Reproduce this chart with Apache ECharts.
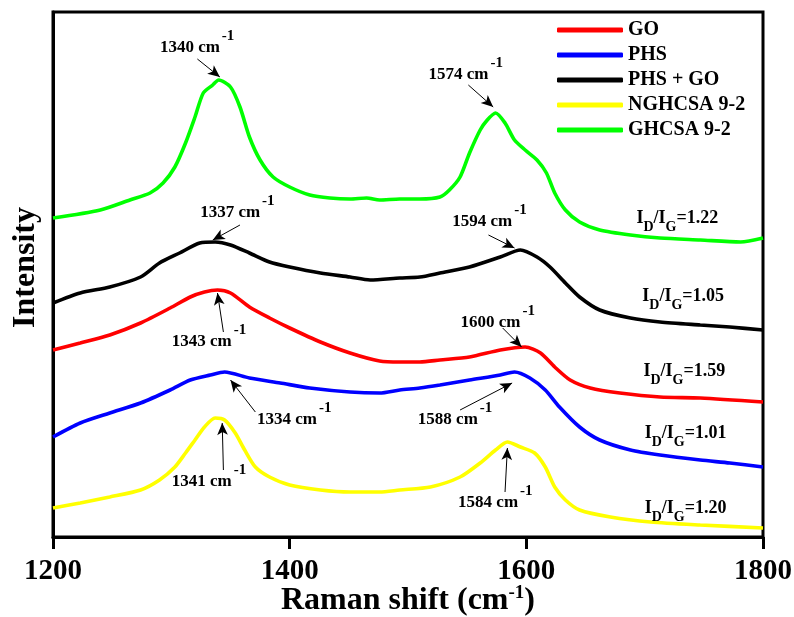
<!DOCTYPE html>
<html>
<head>
<meta charset="utf-8">
<script src="https://cdn.jsdelivr.net/npm/echarts@6/dist/echarts.min.js"></script>
<style>
  html, body { margin: 0; padding: 0; background: #fff; }
  #main { width: 794px; height: 617px; }
</style>
</head>
<body>
<div id="main"></div>
<script>
// Raman spectra, values (intensity is offset, a.u.)
var shiftGO = [1200,1223,1248,1274,1299,1316,1328,1339,1350,1366,1383,1400,1426,1451,1476,1493,1510,1527,1552,1578,1599,1612,1624,1637,1654,1679,1713,1747,1800];
var intGO   = [187,194,202,214,229,240,245,247,244,230,219,209,195,184,176,175,175,177,180,187,190,184,170,157,149,144,140,139,135];

var shiftPHS = [1200,1223,1248,1274,1299,1316,1333,1345,1366,1392,1417,1451,1476,1493,1510,1527,1552,1578,1590,1603,1616,1628,1645,1662,1688,1713,1747,1772,1800];
var intPHS   = [100,114,124,134,147,157,162,165,159,154,149,145,144,147,149,152,157,162,165,159,147,130,110,97,87,82,77,74,70];

var shiftMix = [1200,1223,1248,1274,1290,1307,1324,1337,1350,1366,1383,1400,1426,1451,1468,1493,1510,1527,1552,1578,1595,1609,1620,1633,1645,1662,1688,1713,1747,1772,1800];
var intMix   = [234,244,250,260,274,284,294,295,292,284,275,270,264,260,257,259,260,264,270,280,287,280,270,254,240,227,219,215,212,210,207];

var shiftNG = [1200,1223,1248,1274,1290,1303,1312,1320,1328,1337,1345,1354,1362,1371,1383,1400,1426,1451,1476,1493,1519,1544,1561,1574,1584,1595,1607,1616,1624,1633,1645,1671,1705,1747,1800];
var intNG   = [29,34,40,47,57,70,84,97,110,119,117,104,87,70,60,52,47,45,45,47,50,60,74,87,95,90,84,70,50,37,27,20,15,12,9];

var shiftG = [1200,1240,1265,1282,1293,1303,1312,1320,1327,1335,1340,1350,1358,1366,1375,1386,1400,1417,1434,1451,1465,1476,1493,1510,1527,1535,1544,1552,1561,1567,1574,1582,1590,1599,1609,1617,1624,1633,1645,1662,1688,1713,1747,1781,1800];
var intG   = [319,327,337,344,354,370,394,420,444,452,457,450,430,400,377,360,350,342,339,338,339,337,338,338,340,347,360,384,407,417,424,414,397,387,377,364,344,327,315,307,302,299,297,295,299];

var names = ['GO', 'PHS', 'PHS + GO', 'NGHCSA 9-2', 'GHCSA 9-2'];
var xTicks = [1200, 1400, 1600, 1800];

// peak labels: text, anchor (end of "cm") in data coords
var peakText = ['1340', '1337', '1574', '1594', '1600', '1343', '1334', '1588', '1341', '1584'];
var peakX    = [1341, 1375, 1568, 1588, 1595, 1351, 1423, 1559, 1351, 1593];
var peakY    = [489, 324, 462, 315, 214, 195, 117, 117, 55, 34];
// arrows: from -> to
var arrFromX = [1322, 1358, 1551, 1568, 1580, 1344, 1371, 1544, 1344, 1582];
var arrFromY = [478, 312, 452, 302, 209, 205, 125, 127, 67, 45];
var arrToX   = [1341, 1335, 1572, 1590, 1596, 1339, 1350, 1588, 1343, 1584];
var arrToY   = [460, 297, 430, 289, 190, 244, 157, 154, 114, 89];

// I_D/I_G ratios
var ratioText = ['1.22', '1.05', '1.59', '1.01', '1.20'];
var ratioX    = [1693, 1698, 1699, 1700, 1700];
var ratioY    = [319, 241, 166, 104, 29];

var colors = ['#ff0000', '#0000ff', '#000000', '#ffff00', '#00ff00'];
var FONT = '"Liberation Serif", "Times New Roman", serif';

function zip(a, b) {
  return a.map(function (v, i) { return [v, b[i]]; });
}

var chart = echarts.init(document.getElementById('main'));

var seriesData = [
  zip(shiftGO, intGO),
  zip(shiftPHS, intPHS),
  zip(shiftMix, intMix),
  zip(shiftNG, intNG),
  zip(shiftG, intG)
];

var series = names.map(function (n, i) {
  return {
    name: n,
    type: 'line',
    data: seriesData[i],
    showSymbol: false,
    smooth: 0.25,
    lineStyle: { width: 3.6, color: colors[i] },
    itemStyle: { color: colors[i] },
    z: 2
  };
});

// arrows go on the first series as a markLine
series[0].markLine = {
  silent: true,
  symbol: ['none', 'arrow'],
  symbolSize: [8, 12],
  label: { show: false },
  lineStyle: { color: '#000', width: 1, type: 'solid' },
  itemStyle: { color: '#000' },
  emphasis: { disabled: true },
  data: arrFromX.map(function (x, i) {
    return [{ coord: [x, arrFromY[i]] }, { coord: [arrToX[i], arrToY[i]] }];
  })
};

var option = {
  animation: false,
  backgroundColor: '#fff',
  color: colors,
  grid: {
    left: 53, right: 31, top: 12, bottom: 80,
    containLabel: false,
    outerBoundsMode: 'none',
    show: true, borderColor: '#000', borderWidth: 3
  },
  legend: {
    orient: 'vertical',
    left: 552,
    top: 15,
    icon: 'roundRect',
    itemWidth: 66,
    itemHeight: 5,
    itemGap: 5,
    textStyle: { fontFamily: FONT, fontWeight: 'bold', fontSize: 20, color: '#000', lineHeight: 20 },
    data: names
  },
  xAxis: {
    type: 'value',
    min: 1200, max: 1800, interval: 200,
    splitLine: { show: false },
    axisLine: { lineStyle: { color: '#000', width: 3 } },
    axisTick: { inside: false, length: 12, lineStyle: { width: 3, color: '#000' } },
    axisLabel: {
      margin: 20,
      fontFamily: FONT, fontWeight: 'bold', fontSize: 29, color: '#000',
      formatter: function (v) { return xTicks.indexOf(v) >= 0 ? String(v) : ''; }
    },
    name: 'Raman shift (cm{sup|-1})',
    nameLocation: 'middle',
    nameGap: 47,
    nameMoveOverlap: false,
    nameTextStyle: {
      fontFamily: FONT, fontWeight: 'bold', fontSize: 32, color: '#000', lineHeight: 34,
      rich: {
        sup: { fontFamily: FONT, fontWeight: 'bold', fontSize: 19, color: '#000', lineHeight: 19, verticalAlign: 'top' }
      }
    }
  },
  yAxis: {
    type: 'value',
    min: 0, max: 525,
    splitLine: { show: false },
    axisLine: { show: true, lineStyle: { color: '#000', width: 3 } },
    axisTick: { show: false },
    axisLabel: { show: false },
    name: 'Intensity',
    nameLocation: 'middle',
    nameGap: 11,
    nameMoveOverlap: false,
    nameTextStyle: { fontFamily: FONT, fontWeight: 'bold', fontSize: 32, color: '#000', padding: [0, 0, 0, 14] }
  },
  series: series
};

chart.setOption(option);

// text annotations, placed from data coords
var ctx = document.createElement('canvas').getContext('2d');
function textW(t, size) {
  ctx.font = 'bold ' + size + 'px ' + FONT;
  return ctx.measureText(t).width;
}
function txt(t, x, y, size, align) {
  return {
    type: 'text', x: x, y: y, silent: true, z: 100,
    style: {
      text: t, fill: '#000', align: align || 'left', verticalAlign: 'middle',
      font: 'bold ' + size + 'px ' + FONT
    }
  };
}

var g = [];
peakText.forEach(function (t, i) {
  var p = chart.convertToPixel({ gridIndex: 0 }, [peakX[i], peakY[i]]);
  g.push(txt(t + ' cm', p[0], p[1], 17, 'right'));
  g.push(txt('-1', p[0] + 2, p[1] - 12, 15, 'left'));
});

ratioText.forEach(function (t, i) {
  var p = chart.convertToPixel({ gridIndex: 0 }, [ratioX[i], ratioY[i]]);
  var pieces = [
    ['I', 18, 0], ['D', 14, 9], ['/', 18, 0], ['I', 18, 0], ['G', 14, 9], ['=' + t, 18, 0]
  ];
  var x = p[0];
  pieces.forEach(function (pc) {
    g.push(txt(pc[0], x, p[1] + pc[2], pc[1], 'left'));
    x += textW(pc[0], pc[1]);
  });
});

chart.setOption({ graphic: g });
</script>
</body>
</html>
